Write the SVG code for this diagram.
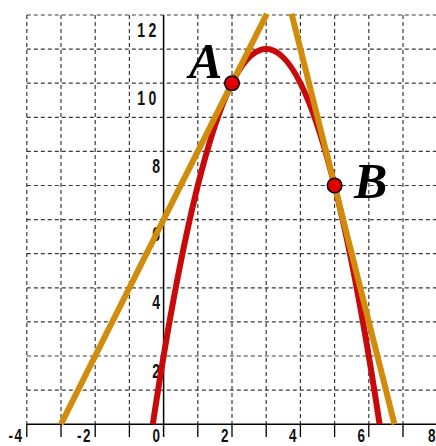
<svg xmlns="http://www.w3.org/2000/svg" width="436" height="446" viewBox="0 0 436 446">
<style>
.grid{stroke:#3a3a3a;stroke-width:1.2;stroke-dasharray:4 3;fill:none}
.axis{stroke:#000;stroke-width:1.5;fill:none}
.tick{stroke:#000;stroke-width:1.3}
.num{font-family:"Liberation Sans",Arial,sans-serif;font-size:19.5px;font-weight:bold;fill:#111;text-anchor:end}
.xn{font-size:18px}
.pt{fill:#e00000;stroke:#000;stroke-width:1.5}
.lbl{font-family:"Liberation Serif","Times New Roman",serif;font-size:50px;font-weight:bold;font-style:italic;fill:#000}
</style>
<rect width="436" height="446" fill="#fff"/>
<g id="grid">
<path class="grid" d="M26.8 15V424.2M61 15V424.2M95.2 15V424.2M129.4 15V424.2M197.8 15V424.2M232 15V424.2M266.2 15V424.2M300.4 15V424.2M334.6 15V424.2M368.8 15V424.2M403 15V424.2"/>
<path class="grid" d="M26.8 15H436M26.8 49.1H436M26.8 83.2H436M26.8 117.3H436M26.8 151.4H436M26.8 185.5H436M26.8 219.6H436M26.8 253.7H436M26.8 287.8H436M26.8 321.9H436M26.8 356H436M26.8 390.1H436"/>
</g>
<g id="axes">
<path class="axis" d="M163.6 15V437M26.8 424.2H436"/>
<path class="tick" d="M26.8 424.2V437M61 424.2V437M95.2 424.2V437M129.4 424.2V437M197.8 424.2V437M232 424.2V437M266.2 424.2V437M300.4 424.2V437M334.6 424.2V437M368.8 424.2V437M403 424.2V437"/>
</g>
<g id="labels">
<text class="num" transform="translate(160,37) scale(0.72,1)" letter-spacing="5">12</text>
<text class="num" transform="translate(160,104.5) scale(0.72,1)" letter-spacing="5">10</text>
<text class="num" transform="translate(160,173) scale(0.72,1)">8</text>
<text class="num" transform="translate(160,241) scale(0.72,1)">6</text>
<text class="num" transform="translate(160,309) scale(0.72,1)">4</text>
<text class="num" transform="translate(160,377.5) scale(0.72,1)">2</text>
<text class="num xn" transform="translate(23.5,441.5) scale(0.75,1)" letter-spacing="2">-4</text>
<text class="num xn" transform="translate(92,441.5) scale(0.75,1)" letter-spacing="2">-2</text>
<text class="num xn" transform="translate(160,441.5) scale(0.75,1)">0</text>
<text class="num xn" transform="translate(228.5,441.5) scale(0.75,1)">2</text>
<text class="num xn" transform="translate(296.5,441.5) scale(0.75,1)">4</text>
<text class="num xn" transform="translate(365,441.5) scale(0.75,1)">6</text>
<text class="num xn" transform="translate(435.5,441.5) scale(0.75,1)">8</text>
</g>
<g id="connectors">
<path id="parabola" d="M152.8 424.2Q266.2 -326 379.6 424.2" fill="none" stroke="#c80a0a" stroke-width="6"/>
<path id="tangentA" d="M61 424.2L266.8 13.8" fill="none" stroke="#d08c0a" stroke-width="6"/>
<path id="tangentB" d="M291.6 13.8L394.5 424.2" fill="none" stroke="#d08c0a" stroke-width="6"/>
</g>
<g id="A">
<circle class="pt" cx="232" cy="83.2" r="7.3"/>
<text class="lbl" x="189" y="78">A</text>
</g>
<g id="B">
<circle class="pt" cx="334.6" cy="185.5" r="7.3"/>
<text class="lbl" x="354" y="198">B</text>
</g>
</svg>
